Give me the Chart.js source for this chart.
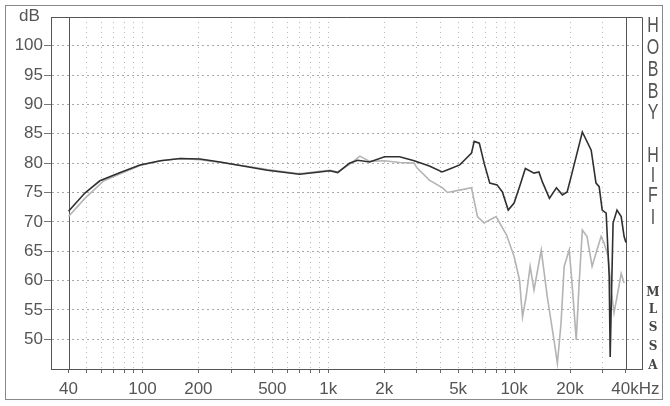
<!DOCTYPE html>
<html>
<head>
<meta charset="utf-8">
<script src="https://cdn.jsdelivr.net/npm/chart.js@4/dist/chart.umd.min.js"></script>
<style>
  body { margin: 0; background: #fff; }
  #wrap { position: relative; width: 670px; height: 406px; font-family: "Liberation Sans", Arial, sans-serif; color: #555; }
  #frame { position: absolute; left: 5px; top: 5px; width: 656px; height: 393px; border: 1px solid #888; }
  canvas { position: absolute; left: 0; top: 0; }
  .lab { position: absolute; font-size: 17px; line-height: 17px; }
  .side { position: absolute; left: 646px; width: 14px; text-align: center; font-size: 16px; line-height: 16px; transform: scaleY(1.35); }
  .mls { position: absolute; left: 646px; width: 14px; text-align: center; font: bold 12px "DejaVu Serif", serif; line-height: 12px; color: #444; }
</style>
</head>
<body>
<div id="wrap">
  <div id="frame"></div>
  <canvas id="myChart" width="670" height="406"></canvas>
  <div class="lab" style="left:19px; top:7px;">dB</div>
  <div id="sideText"></div>
</div>
<script>
// on-axis response (dark) : frequency in Hz, level in dB
let freqOn = [40, 49, 59, 76, 97, 125, 160, 204, 262, 380, 470, 700, 900, 1020, 1125, 1300, 1440, 1670, 2010, 2420, 2900, 3500, 4100, 4500, 5100, 5400, 5900, 6100, 6500, 6900, 7400, 8100, 8650, 9300, 10000, 10700, 11500, 12800, 13600, 14200, 15500, 16900, 18200, 19300, 20500, 23300, 26000, 27600, 28700, 29800, 31300, 32500, 32900, 33300, 34100, 35800, 37700, 39100, 40000];
let dbOn = [71.8, 74.9, 77.0, 78.4, 79.7, 80.4, 80.8, 80.7, 80.2, 79.3, 78.8, 78.1, 78.5, 78.7, 78.4, 80.0, 80.5, 80.2, 81.1, 81.1, 80.4, 79.5, 78.5, 79.0, 79.7, 80.5, 81.7, 83.7, 83.4, 80.0, 76.6, 76.3, 75.1, 72.0, 73.2, 76.0, 79.1, 78.3, 78.5, 76.8, 74.0, 75.8, 74.6, 75.1, 78.3, 85.3, 82.2, 76.6, 76.0, 72.0, 71.5, 60.7, 47.0, 55.0, 69.8, 72.0, 70.9, 67.5, 66.5];

// off-axis response (light grey)
let freqOff = [40, 49, 62, 76, 97, 125, 160, 204, 262, 380, 470, 700, 900, 1020, 1125, 1300, 1480, 1670, 2010, 2420, 2900, 3000, 3500, 4120, 4380, 5090, 5900, 6350, 6900, 8000, 9100, 10000, 10700, 11100, 11600, 12200, 12800, 14000, 15100, 16500, 17100, 17900, 18600, 19800, 20500, 21600, 22400, 23300, 24700, 26300, 27600, 29400, 30500, 32100, 33300, 34500, 35800, 37700, 39100];
let dbOff = [70.9, 74.0, 77.0, 78.2, 79.6, 80.4, 80.8, 80.6, 80.1, 79.4, 78.9, 78.2, 78.6, 78.8, 78.5, 79.8, 81.2, 80.3, 80.4, 80.1, 80.0, 79.2, 77.1, 75.8, 75.0, 75.4, 75.8, 70.9, 69.8, 70.9, 67.8, 64.1, 60.1, 53.8, 57.2, 62.4, 58.4, 65.2, 57.2, 49.3, 45.9, 52.8, 62.4, 65.2, 59.6, 49.9, 59.6, 68.6, 67.5, 62.4, 64.7, 67.5, 66.4, 64.1, 58.4, 54.5, 57.2, 61.2, 59.6];

// axes
let xGrid = [40, 50, 60, 70, 80, 90, 100, 200, 300, 400, 500, 600, 700, 800, 900, 1000, 2000, 3000, 4000, 5000, 6000, 7000, 8000, 9000, 10000, 20000, 30000, 40000];
let xLabels = {40: '40', 100: '100', 200: '200', 500: '500', 1000: '1k', 2000: '2k', 5000: '5k', 10000: '10k', 20000: '20k', 40000: '    40kHz'};
let yTicks = [50, 55, 60, 65, 70, 75, 80, 85, 90, 95, 100];
let sideLetters = [['H', 25], ['O', 47], ['B', 69], ['B', 91], ['Y', 112], ['H', 155], ['I', 175], ['F', 195], ['I', 217]];
let mlsLetters = [['M', 292], ['L', 309], ['S', 327], ['S', 346], ['A', 365]];

function toPoints(xs, ys) {
    return xs.map((x, i) => ({x: x, y: ys[i]}));
}

let side = document.getElementById('sideText');
sideLetters.forEach(([ch, y]) => {
    let d = document.createElement('div');
    d.className = 'side';
    d.style.top = (y - 8) + 'px';
    d.textContent = ch;
    side.appendChild(d);
});
mlsLetters.forEach(([ch, y]) => {
    let d = document.createElement('div');
    d.className = 'mls';
    d.style.top = (y - 6) + 'px';
    d.textContent = ch;
    side.appendChild(d);
});

// frame top/right and the solid lines at 40 Hz / 40 kHz
let framePlugin = {
    id: 'framePlugin',
    beforeDatasetsDraw(chart) {
        let ctx = chart.ctx;
        let a = chart.chartArea;
        let xs = chart.scales.x;
        ctx.save();
        ctx.strokeStyle = '#555';
        ctx.lineWidth = 1;
        ctx.beginPath();
        ctx.moveTo(a.left, a.top + 0.5);
        ctx.lineTo(a.right + 0.5, a.top + 0.5);
        ctx.lineTo(a.right + 0.5, a.bottom);
        [40, 40000].forEach(v => {
            let px = Math.round(xs.getPixelForValue(v)) + 0.5;
            ctx.moveTo(px, a.top);
            ctx.lineTo(px, a.bottom);
        });
        ctx.stroke();
        ctx.restore();
    }
};

let font = {family: '"Liberation Sans", Arial, sans-serif', size: 17};

let chart = new Chart(document.getElementById('myChart').getContext('2d'), {
    type: 'line',
    data: {
        datasets: [{
            label: 'on-axis',
            data: toPoints(freqOn, dbOn),
            borderColor: '#303030',
            borderWidth: 1.6,
            pointRadius: 0,
            tension: 0,
            fill: false
        }, {
            label: 'off-axis',
            data: toPoints(freqOff, dbOff),
            borderColor: '#b4b4b4',
            borderWidth: 1.6,
            pointRadius: 0,
            tension: 0,
            fill: false
        }]
    },
    options: {
        responsive: false,
        animation: false,
        layout: {padding: {left: 0, top: 17, right: 28, bottom: 0}},
        plugins: {legend: {display: false}, tooltip: {enabled: false}},
        scales: {
            x: {
                type: 'logarithmic',
                min: 32.2,
                max: 48800,
                afterBuildTicks: axis => { axis.ticks = xGrid.map(v => ({value: v})); },
                afterFit: axis => { axis.height = 37; },
                ticks: {
                    autoSkip: false,
                    maxRotation: 0,
                    padding: 6,
                    color: '#555',
                    font: font,
                    callback: v => xLabels[v] || ''
                },
                grid: {
                    color: ctx => (ctx.tick && (ctx.tick.value === 40 || ctx.tick.value === 40000)) ? 'rgba(0,0,0,0)' : '#b8b8b8',
                    tickColor: '#666',
                    tickLength: 4,
                    tickBorderDash: []
                },
                border: {color: '#555', dash: [1, 4]}
            },
            y: {
                min: 44.94,
                max: 104.89,
                afterBuildTicks: axis => { axis.ticks = yTicks.map(v => ({value: v})); },
                afterFit: axis => { axis.width = 51; },
                ticks: {
                    padding: 1,
                    color: '#555',
                    font: font
                },
                grid: {
                    color: '#a8a8a8',
                    tickColor: '#777',
                    tickLength: 7,
                    tickBorderDash: []
                },
                border: {color: '#555', dash: [2, 3]}
            }
        }
    },
    plugins: [framePlugin]
});
</script>
</body>
</html>
